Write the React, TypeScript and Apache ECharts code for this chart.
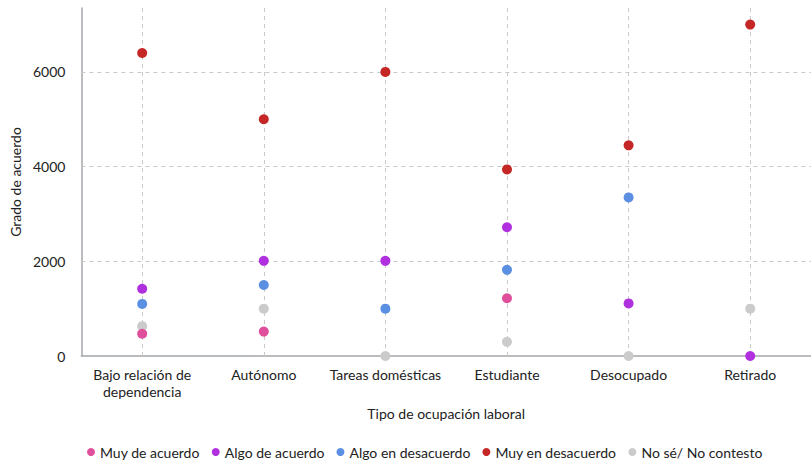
import React, { useEffect, useRef } from 'react';
import * as echarts from 'echarts';

const categories = [
  'Bajo relación de\ndependencia',
  'Autónomo',
  'Tareas domésticas',
  'Estudiante',
  'Desocupado',
  'Retirado',
];
const seriesNames = [
  'Muy de acuerdo',
  'Algo de acuerdo',
  'Algo en desacuerdo',
  'Muy en desacuerdo',
  'No sé/ No contesto',
];
const muyDeAcuerdo = [470, 515, null, 1220, null, null];
const algoDeAcuerdo = [1420, 2010, 2010, 2720, 1110, 0];
const algoEnDesacuerdo = [1100, 1500, 1000, 1820, 3350, null];
const muyEnDesacuerdo = [6400, 5000, 6000, 3940, 4450, 7000];
const noSe = [630, 1000, 0, 300, 0, 1000];
const yGridValues = [2000, 4000, 6000];

const colors = ['#e04f9c', '#b030e0', '#5b8fe2', '#c52626', '#cbcbcb'];

export default function App() {
  const ref = useRef<HTMLDivElement>(null);
  useEffect(() => {
    if (!ref.current) return;
    const chart = echarts.init(ref.current, undefined, { renderer: 'svg' });
    const font = 'Lato, "Noto Sans", sans-serif';
    const values = [muyDeAcuerdo, algoDeAcuerdo, algoEnDesacuerdo, muyEnDesacuerdo, noSe];
    const gridLine = { color: '#c9c9c9', width: 1, type: [4, 4] as any };
    const dataSeries = seriesNames.map((name, i) => ({
      name,
      type: 'scatter',
      symbol: 'circle',
      symbolSize: 10,
      itemStyle: { color: colors[i], opacity: 1 },
      z: i === 4 ? 3 : 4,
      data: values[i].map((v, j) => [categories[j], v]).filter((d) => d[1] !== null),
    }));
    const gridSeries = {
      name: '__grid',
      type: 'scatter',
      data: [],
      z: 1,
      silent: true,
      markLine: {
        silent: true,
        z: 1,
        symbol: 'none',
        label: { show: false },
        lineStyle: gridLine,
        emphasis: { disabled: true },
        data: [
          ...categories.map((c) => ({ xAxis: c })),
          ...yGridValues.map((v) => ({ yAxis: v })),
        ],
      },
    };
    chart.setOption({
      animation: false,
      textStyle: { fontFamily: font },
      legend: {
        data: seriesNames.map((n) => ({ name: n, icon: 'circle' })),
        left: 82,
        top: 440,
        itemWidth: 8,
        itemHeight: 8,
        itemGap: 12,
        textStyle: { fontSize: 14, color: '#222', fontFamily: font },
      },
      grid: { left: 78, right: -8, top: 8, bottom: 105, containLabel: false },
      xAxis: {
        type: 'category',
        data: categories,
        boundaryGap: true,
        name: 'Tipo de ocupación laboral',
        nameLocation: 'middle',
        nameGap: 50,
        nameTextStyle: { fontSize: 14, color: '#222', fontFamily: font },
        axisLine: { show: true, lineStyle: { color: '#a3a6ab', width: 1.5 } },
        axisTick: { show: false },
        axisLabel: { interval: 0, fontSize: 14, color: '#222', margin: 10, lineHeight: 17, fontFamily: font },
        splitLine: { show: false },
      },
      yAxis: {
        type: 'value',
        min: 0,
        max: 7350,
        interval: 2000,
        name: 'Grado de acuerdo',
        nameLocation: 'middle',
        nameGap: 52,
        nameTextStyle: { fontSize: 14, color: '#222', fontFamily: font },
        axisLine: { show: true, lineStyle: { color: '#a3a6ab', width: 1.5 } },
        axisTick: { show: false },
        axisLabel: {
          fontSize: 14,
          color: '#222',
          margin: 16,
          fontFamily: font,
          formatter: (v: number) => (v % 2000 === 0 ? String(v) : ''),
        },
        splitLine: { show: false },
      },
      series: [gridSeries, dataSeries[4], dataSeries[0], dataSeries[1], dataSeries[2], dataSeries[3]],
    });
    return () => chart.dispose();
  }, []);
  return (
    <div
      ref={ref}
      style={{ position: 'fixed', left: 0, top: 0, width: 811, height: 461, background: '#fff' }}
    />
  );
}
